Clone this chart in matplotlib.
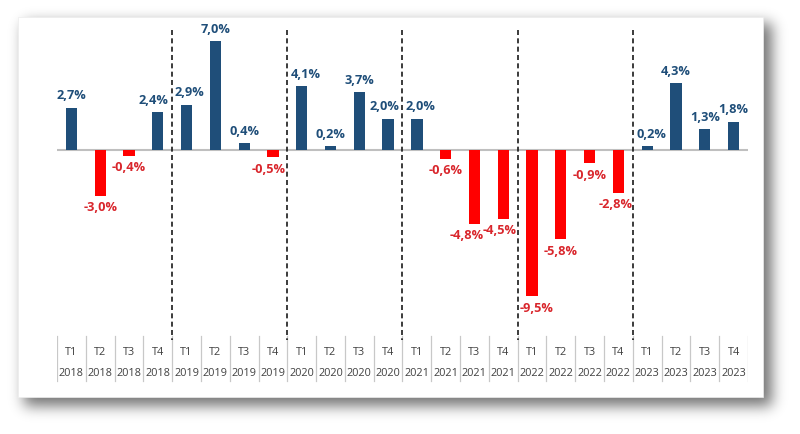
import numpy as np
import matplotlib.pyplot as plt
from matplotlib.patches import Rectangle

# data
quarters = ['T1', 'T2', 'T3', 'T4'] * 6
years = [y for y in ['2018', '2019', '2020', '2021', '2022', '2023'] for _ in range(4)]
values = [2.7, -3.0, -0.4, 2.4,
          2.9, 7.0, 0.4, -0.5,
          4.1, 0.2, 3.7, 2.0,
          2.0, -0.6, -4.8, -4.5,
          -9.5, -5.8, -0.9, -2.8,
          0.2, 4.3, 1.3, 1.8]

blue = '#1F4E79'
red = '#FF0000'
red_txt = '#D9262C'

W, H = 800, 434
fig = plt.figure(figsize=(W / 100, H / 100), dpi=100)
fig.patch.set_facecolor('white')

def fx(px):
    return px / W
def fy(py):
    return 1 - py / H

# panel edges in pixels
pl, pt, pr, pb = 18, 17, 763, 397

# soft drop shadow: blurred rectangle drawn as an image
mask = np.zeros((H, W))
mask[pt + 6:pb + 9, pl + 6:pr + 9] = 1.0
sig = 7.0
k = np.arange(-25, 26)
g = np.exp(-k ** 2 / (2 * sig ** 2))
g /= g.sum()
blur = np.apply_along_axis(lambda r: np.convolve(r, g, mode='same'), 1, mask)
blur = np.apply_along_axis(lambda c: np.convolve(c, g, mode='same'), 0, blur)
rgba = np.zeros((H, W, 4))
rgba[..., 3] = 0.55 * blur
fig.figimage(rgba, xo=0, yo=0, origin='upper', zorder=0)

fig.patches.append(Rectangle((fx(pl), fy(pb)), fx(pr - pl), fy(pt) - fy(pb),
                             transform=fig.transFigure, facecolor='white',
                             edgecolor='#EDEDED', lw=0.5, zorder=1))

# axes spanning the table area too
x0, x1 = 57, 748
ax = fig.add_axes([fx(x0), fy(pb), fx(x1 - x0), fy(pt) - fy(pb)])
ax.set_zorder(2)
ax.patch.set_alpha(0)
base = 149.5
scale = 15.45
def dy(py):
    return (base - py) / scale

ax.set_xlim(-0.5, len(values) - 0.5)
ax.set_ylim(dy(pb), dy(pt))
ax.axis('off')

xs = list(range(len(values)))
colors = [blue if v >= 0 else red for v in values]
ax.bar(xs, values, width=0.39, color=colors, zorder=3)
ax.axhline(0, color='#BFBFBF', lw=1.5, zorder=2)

# small sideways nudges (pixels): labels move off the dashed lines / each other
nudge = {3: -4, 4: 3, 7: -4, 8: 4, 11: -4, 12: 4, 14: -8, 15: -4,
         16: 5, 19: -3, 20: 4}
for x, v in zip(xs, values):
    lab = f'{v:.1f}%'.replace('.', ',')
    dx = nudge.get(x, 0) / 28.8
    if v >= 0:
        ax.text(x + dx, v + 0.35, lab, ha='center', va='bottom', fontsize=9.2,
                fontweight='bold', color=blue, family='Open Sans')
    else:
        ax.text(x + dx, v - 0.35, lab, ha='center', va='top', fontsize=9.2,
                fontweight='bold', color=red_txt, family='Open Sans')

# year separators
for k4 in range(4, len(values), 4):
    ax.plot([k4 - 0.5, k4 - 0.5], [dy(30), dy(340)], color='#1A1A1A', lw=1.2,
            ls=(0, (3, 2)), zorder=4)

# table at the bottom
for j in range(len(values) + 1):
    ax.plot([j - 0.5, j - 0.5], [dy(336), dy(381)], color='#C8C8C8', lw=0.9, zorder=2)
for x, q, y in zip(xs, quarters, years):
    ax.text(x, dy(352), q, ha='center', va='center', fontsize=7.8,
            color='#404040', family='Open Sans')
    ax.text(x, dy(373), y, ha='center', va='center', fontsize=7.8,
            color='#404040', family='Open Sans')

fig.savefig('out.png', dpi=100)
